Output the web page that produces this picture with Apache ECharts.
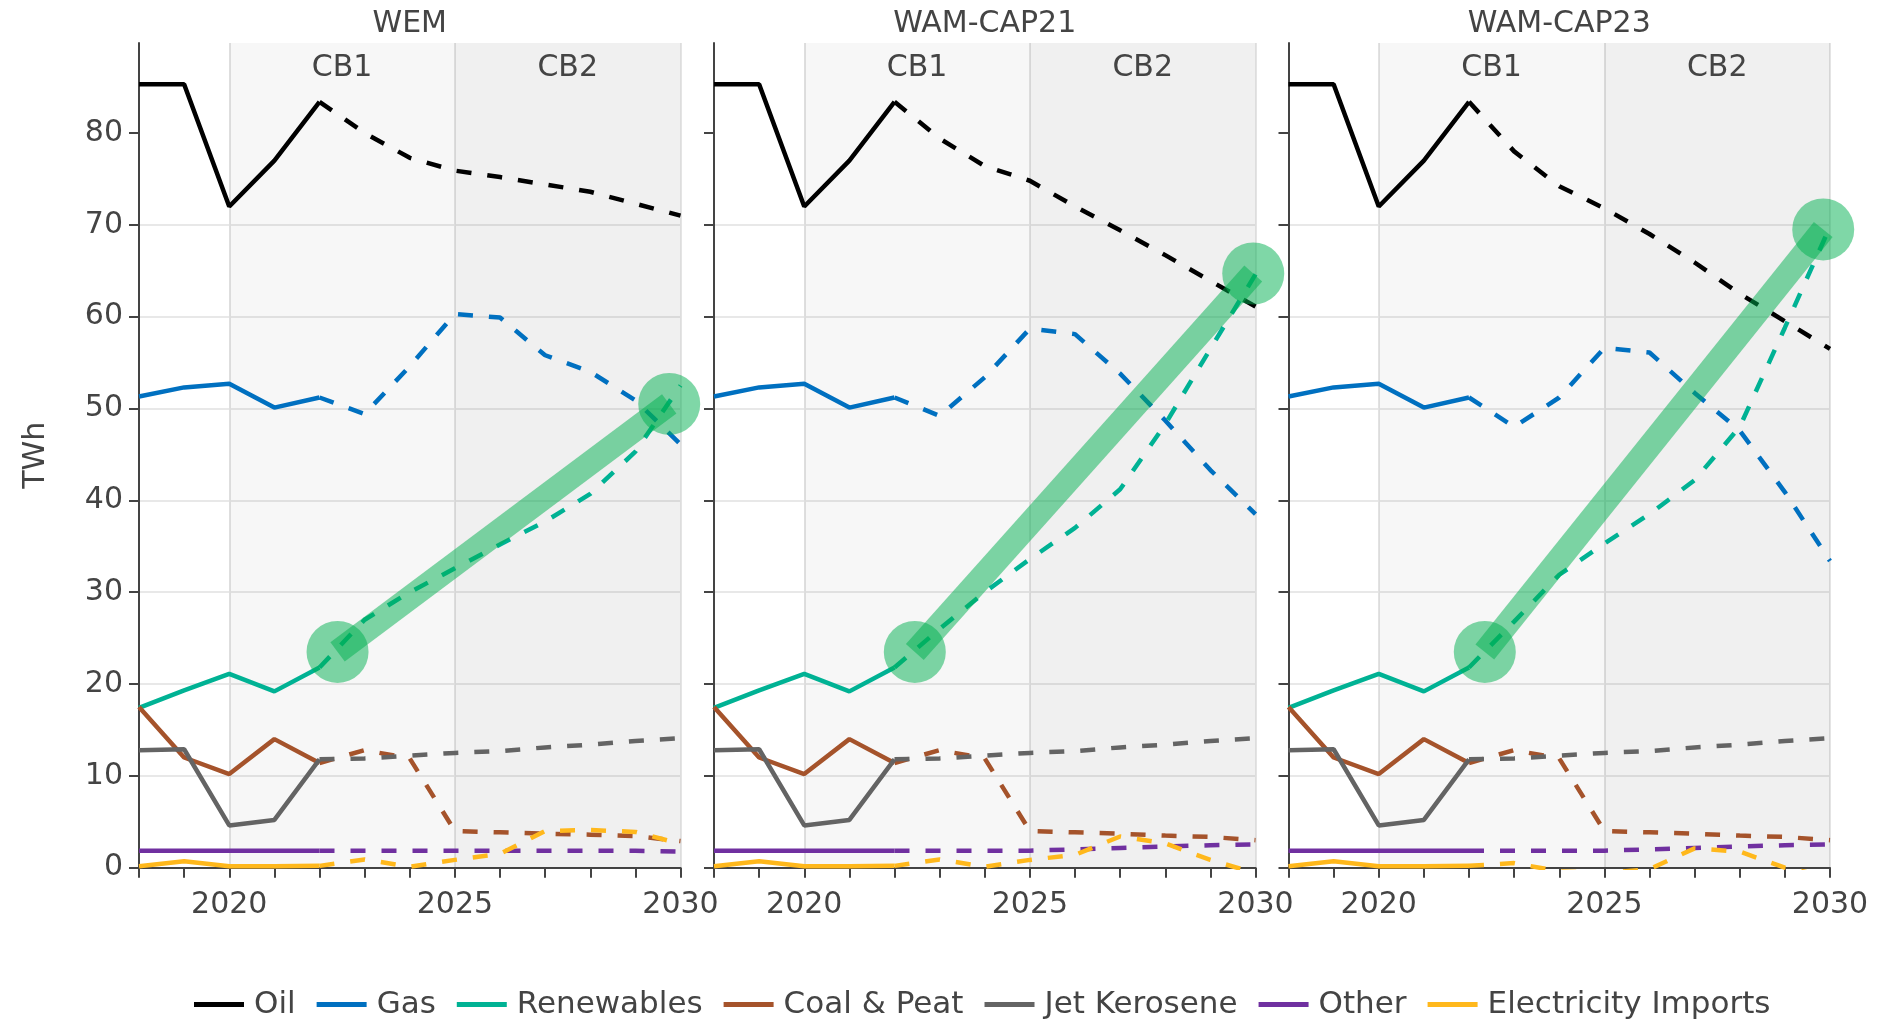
<!DOCTYPE html>
<html>
<head>
<meta charset="utf-8">
<title>TWh by source</title>
<script src="https://cdn.jsdelivr.net/npm/echarts@6/dist/echarts.min.js"></script>
<style>
  html, body { margin: 0; padding: 0; background: #fff; }
  #main { width: 1882px; height: 1021px; }
</style>
</head>
<body>
<div id="main"></div>
<script>
// years
var histYears = [2018, 2019, 2020, 2021, 2022];
var projYears = [2022, 2023, 2024, 2025, 2026, 2027, 2028, 2029, 2030];
var yTicks = [0, 10, 20, 30, 40, 50, 60, 70, 80];

var scenarios = ['WEM', 'WAM-CAP21', 'WAM-CAP23'];
var sources = ['Oil', 'Gas', 'Renewables', 'Coal & Peat', 'Jet Kerosene', 'Other', 'Electricity Imports'];

// history, common to all scenarios
var oilHist = [85.3, 85.3, 72.0, 77.0, 83.4];
var gasHist = [51.3, 52.3, 52.7, 50.1, 51.2];
var renHist = [17.4, 19.3, 21.1, 19.2, 21.8];
var coalHist = [17.5, 12.0, 10.2, 14.0, 11.4];
var jetHist = [12.8, 12.9, 4.6, 5.2, 11.8];
var otherHist = [1.85, 1.85, 1.85, 1.85, 1.85];
var importsHist = [0.15, 0.7, 0.15, 0.15, 0.2];

// projections 2022-2030
var oilWEM = [83.4, 80.0, 77.3, 75.9, 75.2, 74.4, 73.6, 72.3, 71.0];
var gasWEM = [51.2, 49.4, 54.6, 60.3, 59.9, 55.8, 54.0, 50.9, 46.1];
var renWEM = [21.8, 27.0, 30.0, 32.6, 35.2, 37.7, 40.7, 45.3, 52.5];
var coalWEM = [11.4, 12.8, 11.9, 4.0, 3.85, 3.7, 3.6, 3.45, 2.9];
var jetWEM = [11.8, 11.9, 12.2, 12.5, 12.7, 13.1, 13.4, 13.8, 14.1];
var otherWEM = [1.85, 1.85, 1.85, 1.85, 1.85, 1.85, 1.85, 1.85, 1.75];
var importsWEM = [0.2, 0.9, 0.1, 0.85, 1.5, 4.0, 4.1, 3.9, 2.6];

var oilCAP21 = [83.4, 79.4, 76.4, 74.8, 72.0, 69.4, 66.7, 63.9, 61.1];
var gasCAP21 = [51.2, 49.2, 53.4, 58.7, 58.1, 53.8, 48.7, 43.3, 38.5];
var renCAP21 = [21.8, 26.0, 30.0, 33.6, 37.0, 41.2, 48.3, 56.5, 64.6];
var coalCAP21 = [11.4, 12.8, 11.9, 4.0, 3.85, 3.7, 3.5, 3.35, 3.0];
var jetCAP21 = [11.8, 11.9, 12.2, 12.5, 12.7, 13.1, 13.4, 13.8, 14.1];
var otherCAP21 = [1.85, 1.85, 1.85, 1.85, 2.0, 2.15, 2.3, 2.45, 2.55];
var importsCAP21 = [0.2, 0.9, 0.1, 0.85, 1.4, 3.4, 2.65, 0.85, -0.6];

var oilCAP23 = [83.4, 78.0, 74.2, 71.8, 69.0, 65.9, 62.5, 59.5, 56.5];
var gasCAP23 = [51.2, 48.0, 51.2, 56.6, 56.1, 51.7, 47.6, 40.9, 33.4];
var renCAP23 = [21.8, 26.8, 31.9, 35.3, 38.5, 42.2, 48.0, 58.8, 69.8];
var coalCAP23 = [11.4, 12.8, 11.9, 4.0, 3.85, 3.7, 3.5, 3.35, 3.0];
var jetCAP23 = [11.8, 11.9, 12.2, 12.5, 12.7, 13.1, 13.4, 13.8, 14.1];
var otherCAP23 = [1.85, 1.85, 1.85, 1.85, 2.0, 2.15, 2.3, 2.45, 2.55];
var importsCAP23 = [0.2, 0.5, -0.4, -0.6, -0.15, 2.1, 1.75, 0.0, -1.0];

// carbon budget periods
var periodNames = ['CB1', 'CB2'];
var periodStart = [2020, 2025];
var periodEnd = [2025, 2030];

// green highlight, start and end point per scenario
var arrowStart = [[2022.4, 23.5], [2022.45, 23.5], [2022.35, 23.5]];
var arrowEnd = [[2029.75, 50.5], [2029.95, 64.7], [2029.85, 69.5]];

var FONT = '"DejaVu Sans", Verdana, sans-serif';
var TXT = '#444';
var colors = ['#000000', '#0070c0', '#00b294', '#a5532b', '#646464', '#7030a0', '#ffb81c'];
var periodShade = ['rgba(0,0,0,0.03)', 'rgba(0,0,0,0.058)'];
var hlColor = 'rgba(0,176,80,0.5)';

var hist = [oilHist, gasHist, renHist, coalHist, jetHist, otherHist, importsHist];
var proj = [
    [oilWEM, gasWEM, renWEM, coalWEM, jetWEM, otherWEM, importsWEM],
    [oilCAP21, gasCAP21, renCAP21, coalCAP21, jetCAP21, otherCAP21, importsCAP21],
    [oilCAP23, gasCAP23, renCAP23, coalCAP23, jetCAP23, otherCAP23, importsCAP23]
];

var gridLeft = [139, 714, 1288.5];
var gridWidth = 541.5;
var gridTop = 43;
var gridBottom = 153.3;

function pairs(xs, ys) {
    return xs.map(function (x, i) { return [x, ys[i]]; });
}

var grids = [], xAxes = [], yAxes = [], series = [], titles = [];

scenarios.forEach(function (scn, p) {
    grids.push({
        left: gridLeft[p], top: gridTop, width: gridWidth, bottom: gridBottom,
        containLabel: false, outerBoundsMode: 'none'
    });

    xAxes.push({
        type: 'value', gridIndex: p, min: 2018, max: 2030, interval: 1,
        axisLine: {show: true, onZero: true, lineStyle: {color: TXT, width: 2}},
        axisTick: {show: true, length: 10, lineStyle: {color: TXT, width: 2}},
        axisLabel: {
            color: TXT, fontSize: 30, fontFamily: FONT, margin: 23,
            formatter: function (v) { return v % 5 === 0 ? String(v) : ''; }
        },
        splitLine: {
            show: true, showMinLine: true, showMaxLine: true,
            lineStyle: {
                color: ['rgba(0,0,0,0)', 'rgba(0,0,0,0)', '#e4e4e4', 'rgba(0,0,0,0)', 'rgba(0,0,0,0)'],
                width: 2
            }
        }
    });

    yAxes.push({
        type: 'value', gridIndex: p, min: 0, max: 89.8, interval: 10,
        axisLine: {show: true, lineStyle: {color: TXT, width: 2}},
        axisTick: {show: true, length: 10, customValues: yTicks, lineStyle: {color: TXT, width: 2}},
        axisLabel: {
            show: p === 0, customValues: yTicks,
            color: TXT, fontSize: 30, fontFamily: FONT, margin: 16
        },
        splitLine: {show: true, showMinLine: false, showMaxLine: false, lineStyle: {color: '#e8e8e8', width: 2}},
        name: p === 0 ? 'TWh' : '',
        nameLocation: 'middle', nameGap: 88,
        nameTextStyle: {color: TXT, fontSize: 30, fontFamily: FONT}
    });

    // CB shading
    series.push({
        type: 'line', xAxisIndex: p, yAxisIndex: p, data: [], silent: true, z: 1,
        markArea: {
            silent: true,
            label: {show: true, position: 'insideTop', distance: 10, color: TXT, fontSize: 30, fontFamily: FONT},
            data: periodNames.map(function (n, i) {
                return [{name: n, xAxis: periodStart[i], itemStyle: {color: periodShade[i]}}, {xAxis: periodEnd[i]}];
            })
        }
    });

    sources.forEach(function (src, s) {
        series.push({
            name: src, type: 'line', xAxisIndex: p, yAxisIndex: p, z: 2,
            data: pairs(histYears, hist[s]),
            symbol: 'none', silent: true, clip: true,
            itemStyle: {color: colors[s]},
            lineStyle: {color: colors[s], width: 4.5}
        });
        series.push({
            name: src, type: 'line', xAxisIndex: p, yAxisIndex: p, z: 2,
            data: pairs(projYears, proj[p][s]),
            symbol: 'none', silent: true, clip: true,
            itemStyle: {color: colors[s]},
            lineStyle: {color: colors[s], width: 4.5, type: [15, 16]}
        });
    });

    // green highlight
    series.push({
        type: 'line', xAxisIndex: p, yAxisIndex: p, z: 3, silent: true,
        data: [arrowStart[p], arrowEnd[p]],
        symbol: 'circle', symbolSize: 62, showSymbol: true,
        itemStyle: {color: hlColor, borderWidth: 0},
        lineStyle: {color: hlColor, width: 24}
    });

    titles.push({
        type: 'text', x: gridLeft[p] + gridWidth / 2, y: 24,
        style: {text: scn, fill: TXT, fontSize: 30, fontFamily: FONT, align: 'center', verticalAlign: 'middle'}
    });
});

var chart = echarts.init(document.getElementById('main'), null, {renderer: 'canvas'});
chart.setOption({
    backgroundColor: '#ffffff',
    animation: false,
    textStyle: {fontFamily: FONT},
    grid: grids,
    xAxis: xAxes,
    yAxis: yAxes,
    legend: {
        data: sources, left: 194, top: 989, padding: 0,
        itemGap: 21, itemWidth: 50, itemHeight: 5, icon: 'rect',
        selectedMode: false,
        textStyle: {color: TXT, fontSize: 31, fontFamily: FONT, padding: [0, 0, 0, 5]}
    },
    graphic: titles,
    series: series
});
</script>
</body>
</html>
